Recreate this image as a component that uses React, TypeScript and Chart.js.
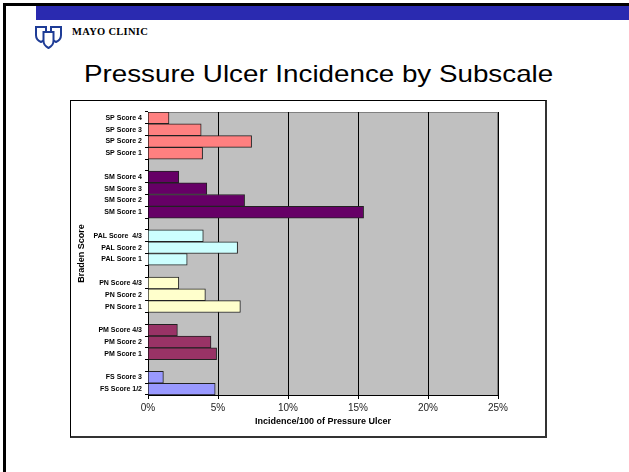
import React, { useEffect, useRef } from "react";
import { Chart, registerables } from "chart.js";

Chart.register(...registerables);

const titleText = "Pressure Ulcer Incidence by Subscale";
const xAxisTitle = "Incidence/100 of Pressure Ulcer";
const yAxisTitle = "Braden Score";

const categories = [
  "SP Score 4", "SP Score 3", "SP Score 2", "SP Score 1", "",
  "SM Score 4", "SM Score 3", "SM Score 2", "SM Score 1", "",
  "PAL Score  4/3", "PAL Score 2", "PAL Score 1", "",
  "PN Score 4/3", "PN Score 2", "PN Score 1", "",
  "PM Score 4/3", "PM Score 2", "PM Score 1", "",
  "FS Score 3", "FS Score 1/2",
];

const values: (number | null)[] = [
  1.5, 3.8, 7.4, 3.9, null,
  2.2, 4.2, 6.9, 15.4, null,
  3.95, 6.4, 2.8, null,
  2.2, 4.1, 6.6, null,
  2.1, 4.5, 4.9, null,
  1.1, 4.8,
];

const groupPrefixes = ["SP", "SM", "PAL", "PN", "PM", "FS"];
const groupColors = ["#FF8080", "#660066", "#CCFFFF", "#FFFFCC", "#993366", "#9999FF"];

const xTicks = [0, 5, 10, 15, 20, 25];

const FONT = "'Liberation Sans', Arial, Helvetica, sans-serif";

function colorFor(label: string): string {
  const prefix = label.split(" ")[0];
  const i = groupPrefixes.indexOf(prefix);
  return i >= 0 ? groupColors[i] : "transparent";
}

const plotBg = {
  id: "plotBg",
  beforeDraw(chart: any) {
    const { ctx, chartArea } = chart;
    if (!chartArea) return;
    ctx.save();
    ctx.fillStyle = "#C0C0C0";
    ctx.fillRect(chartArea.left, chartArea.top, chartArea.right - chartArea.left, chartArea.bottom - chartArea.top);
    ctx.strokeStyle = "#808080";
    ctx.lineWidth = 1;
    ctx.strokeRect(chartArea.left + 0.5, chartArea.top + 0.5, chartArea.right - chartArea.left - 1, chartArea.bottom - chartArea.top);
    ctx.restore();
  },
};

function BarChart() {
  const ref = useRef<HTMLCanvasElement | null>(null);
  useEffect(() => {
    if (!ref.current) return;
    const chart = new Chart(ref.current, {
      type: "bar",
      data: {
        labels: categories,
        datasets: [
          {
            data: values as any,
            backgroundColor: categories.map(colorFor),
            borderColor: "#222222",
            borderWidth: 1,
            barPercentage: 1,
            categoryPercentage: 1,
          },
        ],
      },
      options: {
        indexAxis: "y",
        responsive: false,
        animation: false,
        devicePixelRatio: 1,
        layout: { padding: { left: 0, top: 11, right: 47, bottom: 0 } },
        plugins: { legend: { display: false }, tooltip: { enabled: false } },
        scales: {
          x: {
            type: "linear",
            min: 0,
            max: 25,
            afterFit: (s: any) => { s.height = 41; },
            afterBuildTicks: (s: any) => { s.ticks = xTicks.map((v) => ({ value: v })); },
            ticks: {
              callback: (v: any) => v + "%",
              font: { family: FONT, size: 10 },
              color: "#222222",
              padding: 3,
              maxRotation: 0,
            },
            grid: { color: "#000000", lineWidth: 1, tickLength: 4, drawTicks: true },
            border: { display: true, color: "#000000", width: 1 },
            title: {
              display: true,
              text: xAxisTitle,
              font: { family: FONT, size: 9, weight: "bold" },
              color: "#000000",
              padding: { top: 0, bottom: 8.6 },
            },
          },
          y: {
            type: "category",
            afterFit: (s: any) => { s.width = 77; },
            ticks: {
              autoSkip: false,
              font: { family: FONT, size: 7, weight: "bold" },
              color: "#000000",
              padding: 3,
            },
            grid: { drawOnChartArea: false, drawTicks: true, tickLength: 3, color: "#000000", offset: true },
            border: { display: true, color: "#000000", width: 1 },
            title: {
              display: true,
              text: yAxisTitle,
              font: { family: FONT, size: 9, weight: "bold" },
              color: "#000000",
              padding: { top: 5, bottom: 0 },
            },
          },
        },
      },
      plugins: [plotBg],
    } as any);
    return () => chart.destroy();
  }, []);
  return <canvas ref={ref} width={474} height={335} style={{ display: "block", width: 474, height: 335 }} />;
}

function Logo() {
  const shield = (x: number, y: number, w: number, h: number) =>
    `M${x} ${y} H${x + w} V${y + h * 0.55} C${x + w} ${y + h * 0.85} ${x + w / 2} ${y + h} ${x + w / 2} ${y + h} C${x + w / 2} ${y + h} ${x} ${y + h * 0.85} ${x} ${y + h * 0.55} Z`;
  return (
    <svg width={27} height={23} viewBox="0 0 27 23" style={{ position: "absolute", left: 35, top: 26 }}>
      <path d={shield(1, 1, 10, 15)} fill="none" stroke="#1E3C96" strokeWidth={2} />
      <path d={shield(16, 1, 10, 15)} fill="none" stroke="#1E3C96" strokeWidth={2} />
      <path d={shield(8.5, 6, 10, 16)} fill="#fff" stroke="#1E3C96" strokeWidth={2} />
    </svg>
  );
}

export default function App() {
  return (
    <div style={{ position: "fixed", left: 0, top: 0, width: 629, height: 472, background: "#fff", overflow: "hidden" }}>
      <div style={{ position: "absolute", left: 3, top: 3, width: 626, height: 3, background: "#000" }} />
      <div style={{ position: "absolute", left: 3, top: 3, width: 3, height: 469, background: "#000" }} />
      <div style={{ position: "absolute", left: 36, top: 6, width: 593, height: 14, background: "#2A2AB0" }} />
      <Logo />
      <div
        style={{
          position: "absolute", left: 72, top: 26, fontFamily: "'Liberation Serif', 'Times New Roman', serif",
          fontWeight: "bold", fontSize: 10.5, lineHeight: "12px", color: "#000", whiteSpace: "nowrap",
          letterSpacing: 0.3,
        }}
      >
        MAYO CLINIC
      </div>
      <div
        style={{
          position: "absolute", left: 84, top: 62, fontFamily: FONT, fontSize: 24, lineHeight: "24px",
          color: "#000", whiteSpace: "nowrap", transform: "scaleX(1.157)", transformOrigin: "0 0",
        }}
      >
        {titleText}
      </div>
      <div
        style={{
          position: "absolute", left: 70, top: 100, width: 474, height: 335,
          borderTop: "1px solid #000", borderLeft: "1px solid #000",
          borderRight: "2px solid #333", borderBottom: "2px solid #333",
        }}
      >
        <BarChart />
      </div>
    </div>
  );
}
